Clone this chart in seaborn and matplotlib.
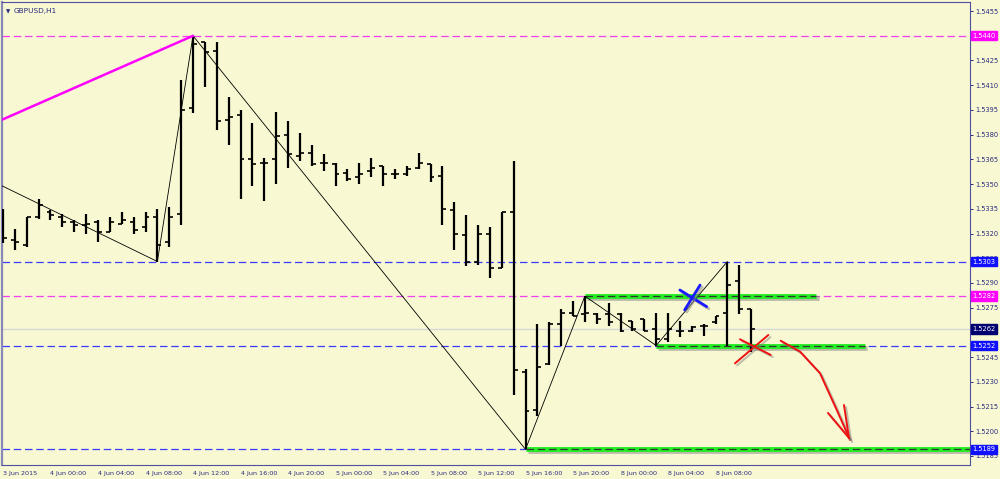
import numpy as np
import pandas as pd
import seaborn as sns
import matplotlib.pyplot as plt
import matplotlib.transforms as mtransforms
import matplotlib.patheffects as pe

# GBPUSD H1 bars, 3 Jun 20:00 .. 8 Jun 11:00
bar_open = [1.5322, 1.5316, 1.5313, 1.5330, 1.5333, 1.5330, 1.5327, 1.5325, 1.5327, 1.5321,
            1.5326, 1.5327, 1.5324, 1.5330, 1.5315, 1.5332, 1.5396, 1.5436, 1.5431, 1.5389,
            1.5392, 1.5365, 1.5363, 1.5365, 1.5380, 1.5367, 1.5369, 1.5363, 1.5362, 1.5357,
            1.5354, 1.5358, 1.5361, 1.5356, 1.5356, 1.5360, 1.5362, 1.5355, 1.5334, 1.5319,
            1.5303, 1.5320, 1.5299, 1.5333, 1.5236, 1.5213, 1.5241, 1.5265, 1.5272, 1.5271,
            1.5271, 1.5271, 1.5271, 1.5267, 1.5268, 1.5262, 1.5256, 1.5261, 1.5261, 1.5264,
            1.5266, 1.5272, 1.5291, 1.5274]
bar_high = [1.5335, 1.5323, 1.5330, 1.5341, 1.5334, 1.5332, 1.5328, 1.5332, 1.5328, 1.5330,
            1.5333, 1.5330, 1.5333, 1.5335, 1.5336, 1.5413, 1.5440, 1.5436, 1.5436, 1.5403,
            1.5395, 1.5387, 1.5366, 1.5394, 1.5388, 1.5381, 1.5374, 1.5368, 1.5363, 1.5359,
            1.5363, 1.5366, 1.5361, 1.5359, 1.5361, 1.5369, 1.5362, 1.5361, 1.5339, 1.5331,
            1.5325, 1.5324, 1.5333, 1.5364, 1.5238, 1.5265, 1.5266, 1.5274, 1.5279, 1.5282,
            1.5272, 1.5278, 1.5272, 1.5267, 1.5268, 1.5272, 1.5272, 1.5267, 1.5264, 1.5265,
            1.5270, 1.5303, 1.5301, 1.5274]
bar_low = [1.5314, 1.5310, 1.5312, 1.5329, 1.5328, 1.5324, 1.5321, 1.5320, 1.5315, 1.5321,
           1.5326, 1.5320, 1.5321, 1.5303, 1.5312, 1.5325, 1.5393, 1.5409, 1.5383, 1.5374,
           1.5341, 1.5349, 1.5340, 1.5350, 1.5360, 1.5364, 1.5361, 1.5358, 1.5349, 1.5352,
           1.5350, 1.5354, 1.5349, 1.5353, 1.5355, 1.5359, 1.5351, 1.5325, 1.5310, 1.5300,
           1.5301, 1.5293, 1.5299, 1.5222, 1.5189, 1.5209, 1.5240, 1.5252, 1.5270, 1.5266,
           1.5265, 1.5264, 1.5260, 1.5261, 1.5261, 1.5252, 1.5254, 1.5257, 1.5260, 1.5258,
           1.5265, 1.5252, 1.5271, 1.5248]
bar_close = [1.5317, 1.5315, 1.5330, 1.5337, 1.5331, 1.5327, 1.5325, 1.5326, 1.5321, 1.5327,
             1.5328, 1.5322, 1.5330, 1.5313, 1.5330, 1.5395, 1.5435, 1.5430, 1.5388, 1.5391,
             1.5365, 1.5362, 1.5363, 1.5379, 1.5368, 1.5369, 1.5362, 1.5363, 1.5356, 1.5353,
             1.5356, 1.5360, 1.5356, 1.5356, 1.5359, 1.5363, 1.5354, 1.5335, 1.5320, 1.5303,
             1.5320, 1.5299, 1.5333, 1.5237, 1.5212, 1.5239, 1.5265, 1.5272, 1.5270, 1.5272,
             1.5268, 1.5266, 1.5261, 1.5262, 1.5261, 1.5256, 1.5262, 1.5261, 1.5263, 1.5264,
             1.5270, 1.5289, 1.5274, 1.5262]

# zigzag turning points (bar index, price)
zigzag_bar = [-0.1, 13, 16, 44, 49, 55, 61]
zigzag_price = [1.5349, 1.5303, 1.5440, 1.5189, 1.5282, 1.5252, 1.5303]
trend_bar = [-0.1, 16]
trend_price = [1.5389, 1.5440]

blue_levels = [1.5303, 1.5252, 1.5189]
magenta_levels = [1.5440, 1.5282]
bid_price = 1.5262

# green support / resistance lines: (price, start bar, end bar)
green_price = [1.5282, 1.5252, 1.5189]
green_start = [49, 55, 44]
green_end = [68.5, 72.6, 85]

# hand drawn marks
blue_x1_bar, blue_x1_price = [57.0, 59.26], [1.52857, 1.52756]
blue_x2_bar, blue_x2_price = [57.4, 58.7], [1.52736, 1.52887]
red_x1_bar, red_x1_price = [61.64, 64.45], [1.52412, 1.52584]
red_x2_bar, red_x2_price = [62.06, 64.65], [1.52558, 1.52463]
arrow_bar = [65.49, 67.12, 68.80, 70.21, 71.33]
arrow_price = [1.52549, 1.52483, 1.52352, 1.52129, 1.51947]
head1_bar, head1_price = [69.47, 71.24], [1.52111, 1.51959]
head2_bar, head2_price = [70.82, 71.24], [1.52159, 1.51959]

xtick_bars = [0, 4, 8, 12, 16, 20, 24, 28, 32, 36, 40, 44, 48, 52, 56, 60]
xtick_labels = ['3 Jun 2015', '4 Jun 00:00', '4 Jun 04:00', '4 Jun 08:00', '4 Jun 12:00',
                '4 Jun 16:00', '4 Jun 20:00', '5 Jun 00:00', '5 Jun 04:00', '5 Jun 08:00',
                '5 Jun 12:00', '5 Jun 16:00', '5 Jun 20:00', '8 Jun 00:00', '8 Jun 04:00',
                '8 Jun 08:00']
ytick_prices = [1.5455, 1.5440, 1.5425, 1.5410, 1.5395, 1.5380, 1.5365, 1.5350, 1.5335,
                1.5320, 1.5305, 1.5290, 1.5275, 1.5260, 1.5245, 1.5230, 1.5215, 1.5200, 1.5185]
# 1.5440 sits fully under its level box, so its grid label is not shown
ytick_labels = ['1.5455', '', '1.5425', '1.5410', '1.5395', '1.5380', '1.5365', '1.5350',
                '1.5335', '1.5320', '1.5305', '1.5290', '1.5275', '1.5260', '1.5245',
                '1.5230', '1.5215', '1.5200', '1.5185']

bg = '#F8F8D2'
blue = '#3a3aff'
magenta = '#f040f0'
navy = '#2a2a80'

sns.set_style('white', {'axes.facecolor': bg, 'figure.facecolor': bg})
plt.rcParams['font.family'] = ['DejaVu Sans']

fig = plt.figure(figsize=(10, 4.79), dpi=100)
ax = fig.add_axes([0.002, 14 / 479, 0.968, 463 / 479])
ax.set_facecolor(bg)

idx = np.arange(len(bar_open))
bars = pd.DataFrame({'bar': idx, 'open': bar_open, 'high': bar_high,
                     'low': bar_low, 'close': bar_close})

dash = (0, (6, 3))
for p in blue_levels:
    ax.axhline(p, color=blue, lw=0.9, ls=dash, zorder=1)
for p in magenta_levels:
    ax.axhline(p, color=magenta, lw=0.9, ls=dash, zorder=1)
ax.axhline(bid_price, color='#d8d8d8', lw=1.0, zorder=0.9)

shadow = [pe.SimpleLineShadow(offset=(1.5, -1.5), shadow_color='gray', alpha=0.5), pe.Normal()]
for p, s, e in zip(green_price, green_start, green_end):
    ax.plot([s, e], [p, p], color='#22ee22', lw=3.5, solid_capstyle='butt',
            path_effects=shadow, zorder=2)
    ax.plot([s, e], [p, p], color='#333333', lw=0.9, ls=dash, zorder=2.1)

# OHLC bars
ax.vlines(bars['bar'], bars['low'], bars['high'], color='black', lw=1.6, zorder=3)
ax.hlines(bars['open'], bars['bar'] - 0.33, bars['bar'], color='black', lw=1.2, zorder=3)
ax.hlines(bars['close'], bars['bar'], bars['bar'] + 0.33, color='black', lw=1.2, zorder=3)

zz = pd.DataFrame({'bar': zigzag_bar, 'price': zigzag_price})
sns.lineplot(data=zz, x='bar', y='price', sort=False, color='black', lw=0.6, ax=ax, zorder=4)
tr = pd.DataFrame({'bar': trend_bar, 'price': trend_price})
sns.lineplot(data=tr, x='bar', y='price', sort=False, color='#ff00ff', lw=1.8, ax=ax, zorder=4)

for bx, by in [(blue_x1_bar, blue_x1_price), (blue_x2_bar, blue_x2_price)]:
    ax.plot(bx, by, color='#1a1aff', lw=2, path_effects=shadow, zorder=5)
for bx, by in [(red_x1_bar, red_x1_price), (red_x2_bar, red_x2_price),
               (arrow_bar, arrow_price), (head1_bar, head1_price), (head2_bar, head2_price)]:
    ax.plot(bx, by, color='#ee1111', lw=1.4, path_effects=shadow, zorder=5)

ax.set_xlim(-0.084, 81.43)
ax.set_ylim(1.51795, 1.54605)
ax.set_xlabel('')
ax.set_ylabel('')

ax.set_xticks(xtick_bars)
ax.set_xticklabels(xtick_labels, ha='left', fontsize=4.6, color=navy)
ax.tick_params(axis='x', direction='out', length=2.5, width=0.7, color=navy, pad=1.5)
ax.yaxis.tick_right()
ax.set_yticks(ytick_prices)
ax.set_yticklabels(ytick_labels, fontsize=4.8, color=navy)
ax.tick_params(axis='y', direction='out', length=2, width=0.7, color=navy, pad=1.5)

for side in ['top', 'right', 'bottom']:
    ax.spines[side].set_color('#5050a0')
    ax.spines[side].set_linewidth(0.8)
ax.spines['left'].set_color('#8888b8')
ax.spines['left'].set_linewidth(1.6)

trans = mtransforms.blended_transform_factory(ax.transAxes, ax.transData)
label_boxes = [(1.5440, '#ff00ff'), (1.5303, '#1010ff'), (1.5282, '#ff00ff'),
               (1.5262, '#000070'), (1.5252, '#1010ff'), (1.5189, '#1010ff')]
for p, c in label_boxes:
    ax.text(1.0025, p, f'{p:.4f}', transform=trans, fontsize=4.8, color='white',
            va='center', ha='left', clip_on=False, zorder=6,
            bbox=dict(boxstyle='square,pad=0.25', fc=c, ec=c))

ax.text(0.0045, 0.985, '\u25bc', transform=ax.transAxes, fontsize=4, color=navy,
        va='top', ha='left')
ax.text(0.0125, 0.988, 'GBPUSD,H1', transform=ax.transAxes, fontsize=5.3, color=navy,
        va='top', ha='left')

fig.savefig('out.png', dpi=100, facecolor=bg)
